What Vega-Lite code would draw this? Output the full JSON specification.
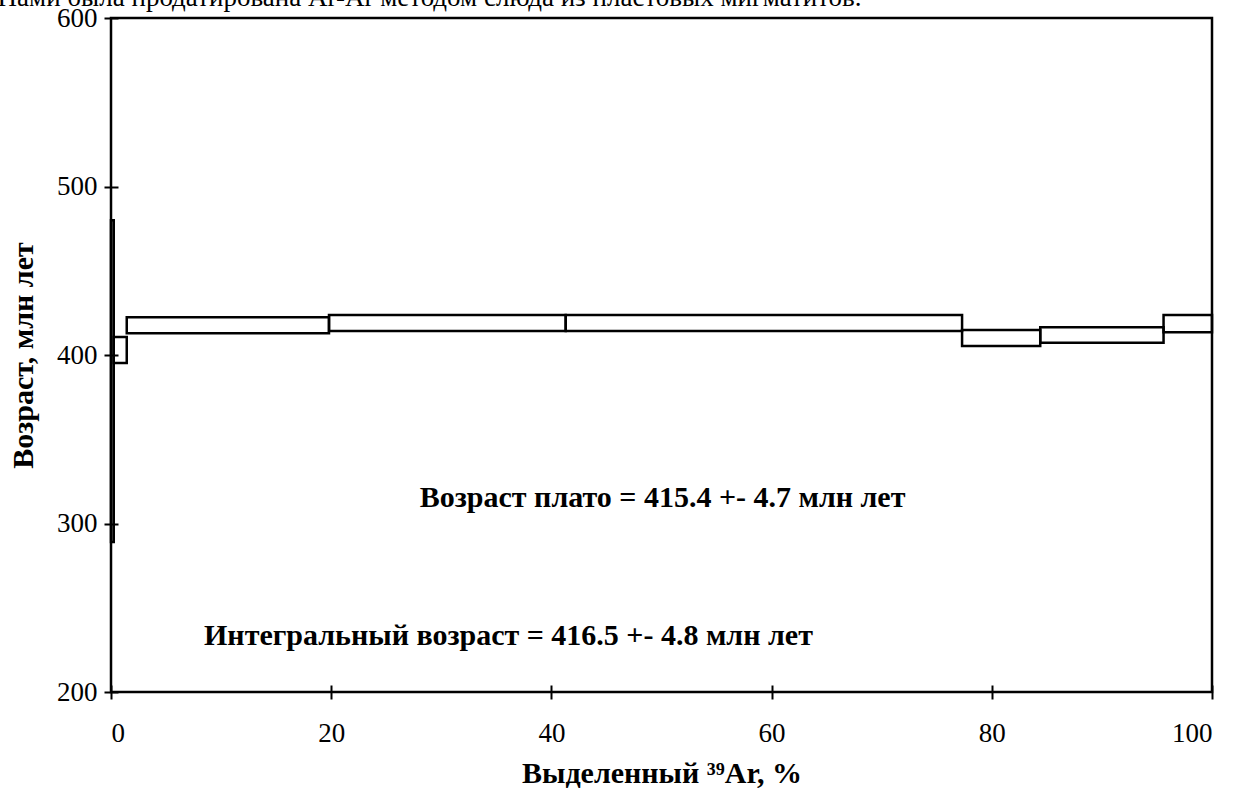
{
  "$schema": "https://vega.github.io/schema/vega-lite/v6.json",
  "autosize": {"type": "none"},
  "width": 1101,
  "height": 674,
  "padding": {"left": 111, "top": 18, "right": 23, "bottom": 101},
  "background": "white",
  "config": {
    "view": {"stroke": "black", "strokeWidth": 2.5},
    "font": "Liberation Serif",
    "axis": {"labelFont": "Liberation Serif", "titleFont": "Liberation Serif", "labelColor": "black", "titleColor": "black", "tickColor": "black", "grid": false, "domain": false}
  },
  "datasets": {
    "steps": [
      {"x1": 0, "x2": 0.25, "lo": 289, "hi": 480},
      {"x1": 0.25, "x2": 1.43, "lo": 395.3, "hi": 410.7},
      {"x1": 1.43, "x2": 19.8, "lo": 412.9, "hi": 422.4},
      {"x1": 19.8, "x2": 41.3, "lo": 414.2, "hi": 423.7},
      {"x1": 41.3, "x2": 77.3, "lo": 414.2, "hi": 423.7},
      {"x1": 77.3, "x2": 84.4, "lo": 405.3, "hi": 414.8},
      {"x1": 84.4, "x2": 95.6, "lo": 407.3, "hi": 416.4},
      {"x1": 95.6, "x2": 100, "lo": 413.5, "hi": 423.7}
    ],
    "notes": [
      {"x": 50.1, "y": 309.8, "label": "Возраст плато = 415.4 +- 4.7 млн лет"},
      {"x": 36.1, "y": 227.9, "label": "Интегральный возраст = 416.5 +- 4.8 млн лет"}
    ],
    "top": [
      {"x": -10.3, "y": 607.1, "label": "Нами была продатирована Ar-Ar методом слюда из пластовых мигматитов."}
    ]
  },
  "layer": [
    {
      "data": {"name": "steps"},
      "mark": {"type": "rect", "fill": "white", "fillOpacity": 0, "stroke": "black", "strokeWidth": 2.5},
      "encoding": {
        "x": {"field": "x1", "type": "quantitative", "scale": {"domain": [0, 100], "nice": false, "zero": false},
          "title": "Выделенный ³⁹Ar, %",
          "axis": {"values": [0, 20, 40, 60, 80, 100], "offset": -7, "tickSize": 14, "tickWidth": 2, "labelFontSize": 27, "labelPadding": 21, "titleFontSize": 30, "titleFontWeight": "bold", "titlePadding": 12}},
        "x2": {"field": "x2"},
        "y": {"field": "lo", "type": "quantitative", "scale": {"domain": [200, 600], "nice": false, "zero": false},
          "title": "Возраст, млн лет",
          "axis": {"values": [200, 300, 400, 500, 600], "offset": -7, "tickSize": 14, "tickWidth": 2, "labelFontSize": 27, "labelPadding": 7, "titleFontSize": 30, "titleFontWeight": "bold", "titlePadding": 18}},
        "y2": {"field": "hi"}
      }
    },
    {
      "data": {"name": "notes"},
      "mark": {"type": "text", "fontSize": 30, "fontWeight": "bold", "align": "center", "baseline": "alphabetic", "color": "black", "font": "Liberation Serif"},
      "encoding": {
        "x": {"field": "x", "type": "quantitative"},
        "y": {"field": "y", "type": "quantitative"},
        "text": {"field": "label"}
      }
    },
    {
      "data": {"name": "top"},
      "mark": {"type": "text", "fontSize": 27, "align": "left", "baseline": "alphabetic", "color": "black", "font": "Liberation Serif"},
      "encoding": {
        "x": {"field": "x", "type": "quantitative"},
        "y": {"field": "y", "type": "quantitative"},
        "text": {"field": "label"}
      }
    }
  ]
}
